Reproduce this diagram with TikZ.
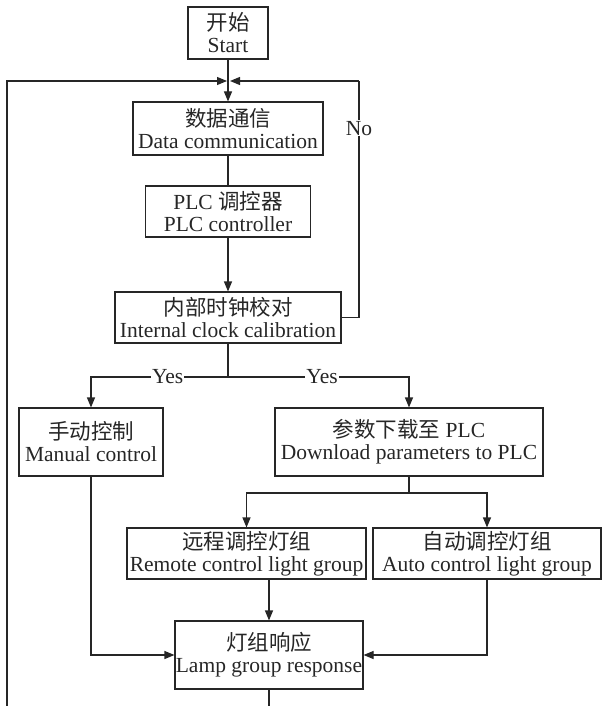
\documentclass[tikz,border=0pt]{standalone}
\usepackage{fontspec}
\setmainfont{Liberation Serif}
\newfontfamily\cjk{Noto Sans CJK SC}
\usetikzlibrary{arrows.meta}
\begin{document}
\begin{tikzpicture}[x=1pt,y=-1pt,
  font=\fontsize{21.5}{22}\selectfont,
  box/.style={draw=black!85, line width=1.1pt, rectangle, inner sep=0pt, align=center, text=black!85},
  conn/.style={draw=black!85, line width=1.1pt},
  arr/.style={conn, -{Triangle[length=10pt,width=8pt]}},
  lbl/.style={fill=white, inner sep=1pt, text=black!85}]
\useasboundingbox (0,0) rectangle (602,706);
\node[box, minimum width=80, minimum height=52] (start) at (228,33) {{\cjk 开始}\\Start};
\node[box, minimum width=190, minimum height=53] (data) at (228,128.5) {{\cjk 数据通信}\\Data communication};
\node[box, minimum width=165, minimum height=51] (plc) at (228,211.5) {PLC {\cjk 调控器}\\PLC controller};
\node[box, minimum width=226, minimum height=51] (clock) at (228,317.5) {{\cjk 内部时钟校对}\\Internal clock calibration};
\node[box, minimum width=144, minimum height=68] (manual) at (91,442) {{\cjk 手动控制}\\Manual control};
\node[box, minimum width=268, minimum height=68] (download) at (409,442) {{\cjk 参数下载至} PLC\\Download parameters to PLC};
\node[box, minimum width=239, minimum height=51] (remote) at (246.5,553.5) {{\cjk 远程调控灯组}\\Remote control light group};
\node[box, minimum width=228, minimum height=51] (auto) at (487,553.5) {{\cjk 自动调控灯组}\\Auto control light group};
\node[box, minimum width=188, minimum height=68] (lamp) at (269,655) {{\cjk 灯组响应}\\Lamp group response};
\coordinate (m) at (228,81);
\coordinate (ml) at (227,81);
\coordinate (mr) at (230,81);
\coordinate (nr) at (359,81);
\coordinate (bl) at (7,706);
\coordinate (lb) at (269,706);
\coordinate (sp) at (228,377);
\coordinate (ds) at (409,493);
\draw[arr] (start) -- (data);
\draw[conn] (data) -- (plc);
\draw[arr] (plc) -- (clock);
\draw[conn] (clock.east) -| (nr) node[lbl, pos=0.9] {No};
\draw[arr] (nr) -- (mr);
\draw[arr] (bl) |- (ml);
\draw[conn] (clock) -- (sp);
\draw[arr] (sp) -| (manual) node[lbl, pos=0.22] {Yes};
\draw[arr] (sp) -| (download) node[lbl, pos=0.26] {Yes};
\draw[conn] (download) -- (ds);
\draw[arr] (ds) -| (remote);
\draw[arr] (ds) -| (auto);
\draw[arr] (remote.south -| lamp.north) -- (lamp.north);
\draw[arr] (manual.south) |- (lamp.west);
\draw[arr] (auto.south) |- (lamp.east);
\draw[conn] (lamp) -- (lb);
\end{tikzpicture}
\end{document}
